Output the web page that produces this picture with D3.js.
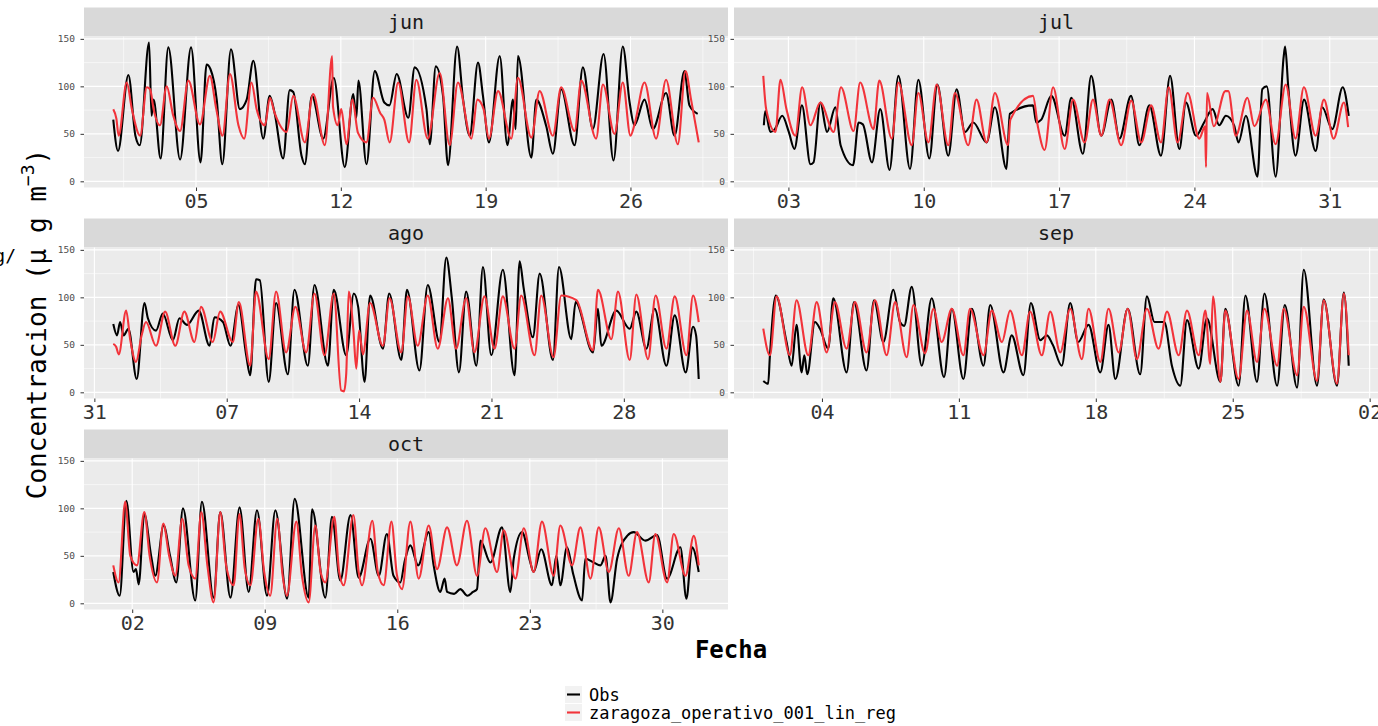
<!DOCTYPE html>
<html>
<head>
<meta charset="utf-8">
<script src="https://cdn.jsdelivr.net/npm/d3@7"></script>
<style>
  body { margin: 0; background: #fff; }
  svg text { font-family: "DejaVu Sans Mono", monospace; }
</style>
</head>
<body>
<svg id="chart" width="1378" height="726"></svg>
<script>
// facet names and the first day of each month
const months = ["jun", "jul", "ago", "sep", "oct"];
const monthFirst = ["2019-06-01", "2019-07-01", "2019-08-01", "2019-09-01", "2019-10-01"];

// x breaks of every facet
const junTicks = ["2019-06-05", "2019-06-12", "2019-06-19", "2019-06-26"];
const julTicks = ["2019-07-03", "2019-07-10", "2019-07-17", "2019-07-24", "2019-07-31"];
const agoTicks = ["2019-07-31", "2019-08-07", "2019-08-14", "2019-08-21", "2019-08-28"];
const sepTicks = ["2019-09-04", "2019-09-11", "2019-09-18", "2019-09-25", "2019-10-02"];
const octTicks = ["2019-10-02", "2019-10-09", "2019-10-16", "2019-10-23", "2019-10-30"];

const yTicks = [0, 50, 100, 150];
const yMinor = [25, 75, 125];

const seriesNames = ["Obs", "zaragoza_operativo_001_lin_reg"];

// [days since the 1st of the month, concentration]
const junObs = [[0,65],[0.23,32],[0.73,112],[1.07,48],[1.28,38],[1.73,146],[1.85,69],[1.95,86],[2.29,24],[2.66,141],[3.23,23],[3.76,141],[4.22,20],[4.51,123],[4.7,118],[5.0,86],[5.27,18],[5.69,139],[6.12,76],[6.45,86],[6.77,127],[7.25,45],[7.56,90],[7.8,72],[8.21,24],[8.53,96],[8.7,94],[9.1,27],[9.26,18],[9.6,90],[10.15,45],[10.66,109],[11.19,15],[11.6,92],[11.75,67],[11.85,106],[12.24,18],[12.64,116],[13.1,83],[13.35,80],[13.7,113],[14.26,67],[14.57,120],[15.14,76],[15.3,39],[15.59,121],[15.94,90],[16.18,17],[16.62,142],[16.91,86],[17.23,48],[17.63,125],[17.87,90],[18.16,41],[18.68,132],[19.05,38],[19.32,86],[19.45,55],[19.56,132],[20.21,25],[20.45,86],[20.93,58],[21.25,29],[21.65,97],[22.3,38],[22.7,120],[23.18,55],[23.7,134],[24.18,22],[24.63,142],[24.96,83],[25.19,59],[25.68,86],[26.08,55],[26.72,93],[27.13,48],[27.61,116],[27.85,80],[28.25,71]];
const junMod = [[0,76],[0.15,66],[0.26,48],[0.65,104],[0.9,76],[1.3,48],[1.62,99],[1.78,97],[1.95,76],[2.26,59],[2.58,100],[2.9,69],[3.23,53],[3.63,106],[4.19,60],[4.67,111],[4.98,76],[5.28,48],[5.64,113],[6.05,59],[6.33,45],[6.68,104],[6.93,76],[7.33,59],[7.57,88],[7.8,72],[8.38,52],[8.7,90],[9.26,41],[9.66,92],[10.23,38],[10.58,132],[10.62,79],[10.85,59],[11.02,76],[11.27,39],[11.56,86],[11.83,51],[12.24,41],[12.56,88],[12.9,72],[13.1,65],[13.36,41],[13.77,104],[14.3,41],[14.65,107],[15.2,45],[15.78,114],[16.26,38],[16.66,104],[17.31,45],[17.6,86],[17.9,76],[18.16,45],[18.6,95],[19.24,45],[19.56,109],[20.21,46],[20.61,95],[21.25,48],[21.65,99],[22.3,53],[22.62,106],[23.34,45],[23.67,102],[24.23,50],[24.63,104],[25.0,48],[25.2,60],[25.68,104],[26.24,45],[26.72,107],[27.29,39],[27.66,116],[27.93,86],[28.3,41]];

const julObs = [[0.73,59],[0.8,74],[1.07,52],[1.3,55],[1.68,69],[2.02,52],[2.31,34],[2.7,80],[3.14,18],[3.3,20],[3.65,83],[4.0,52],[4.43,78],[4.7,38],[5.34,17],[5.63,62],[5.85,60],[6.32,20],[6.75,76],[7.23,12],[7.69,111],[8.29,13],[8.72,107],[9.29,24],[9.7,102],[10.27,27],[10.7,97],[11.13,52],[11.56,62],[12.25,41],[12.68,78],[13.28,13],[13.45,71],[14.65,80],[14.82,62],[15.08,65],[15.6,90],[16.29,48],[16.63,88],[17.23,29],[17.66,111],[18.18,48],[18.7,86],[19.12,45],[19.72,90],[20.15,38],[20.67,80],[21.27,27],[21.74,111],[22.22,34],[22.56,83],[23.08,48],[23.5,62],[23.94,76],[24.28,59],[24.63,69],[25.05,59],[25.28,41],[25.66,69],[26.26,5],[26.51,97],[26.74,100],[27.2,5],[27.62,132],[27.69,142],[27.85,100],[28.23,27],[28.67,86],[29.27,32],[29.61,78],[30.13,55],[30.67,99],[30.98,69]];
const julMod = [[0.7,111],[0.85,76],[1.33,52],[1.59,107],[1.9,76],[2.36,48],[2.71,99],[3.14,59],[3.65,83],[4.34,52],[4.72,99],[5.37,53],[5.71,104],[6.4,55],[6.7,106],[7.35,45],[7.69,104],[8.38,38],[8.72,93],[9.24,41],[9.67,102],[10.27,38],[10.61,93],[11.3,38],[11.73,86],[12.25,41],[12.68,93],[13.36,38],[13.48,65],[14.65,90],[14.9,58],[15.25,33],[15.69,99],[16.29,34],[16.72,86],[17.32,41],[17.75,86],[18.18,48],[18.61,86],[19.21,38],[19.73,85],[20.25,41],[20.76,80],[21.27,41],[21.67,99],[22.13,41],[22.65,93],[23.25,45],[23.55,58],[23.6,15],[23.65,93],[24.0,58],[24.6,95],[24.75,95],[25.14,48],[25.74,88],[26.1,58],[26.69,86],[27.2,39],[27.72,102],[28.23,45],[28.66,99],[29.27,48],[29.7,86],[30.2,45],[30.73,83],[30.95,57]];

const agoObs = [[0,72],[0.2,60],[0.36,74],[0.55,60],[0.8,67],[1.24,14],[1.65,94],[1.83,78],[2.26,65],[2.62,83],[3.15,55],[3.5,78],[3.9,71],[4.52,86],[5.09,49],[5.35,79],[5.8,74],[6.2,49],[6.62,92],[7.03,39],[7.24,18],[7.55,119],[7.75,118],[8.22,11],[8.61,94],[9.23,19],[9.58,108],[10.29,28],[10.64,113],[11.35,28],[11.66,108],[12.32,39],[12.72,104],[12.95,90],[13.29,11],[13.58,102],[14.26,46],[14.59,104],[15.23,34],[15.53,108],[16.19,23],[16.63,113],[17.25,53],[17.61,142],[17.9,100],[18.28,21],[18.66,106],[19.2,28],[19.55,132],[19.99,39],[20.6,129],[21.22,18],[21.49,138],[21.7,110],[22.19,58],[22.55,125],[23.25,34],[23.57,132],[24.22,56],[24.45,95],[25.37,42],[25.63,88],[25.81,49],[26.6,86],[27.31,67],[27.66,85],[28.19,46],[28.63,88],[29.25,28],[29.69,81],[30.27,21],[30.66,69],[30.82,60],[30.96,14]];
const agoMod = [[0,51],[0.15,48],[0.29,40],[0.68,86],[0.9,55],[1.2,32],[1.5,60],[1.73,74],[2.26,49],[2.74,85],[3.28,49],[3.76,85],[4.29,53],[4.64,90],[5.26,53],[5.65,85],[6.32,53],[6.64,95],[7.24,28],[7.55,106],[8.22,35],[8.61,106],[9.14,42],[9.63,90],[10.2,42],[10.64,104],[11.17,39],[11.66,104],[12.05,2],[12.2,1],[12.32,20],[12.45,106],[12.7,65],[12.85,25],[13.0,65],[13.2,40],[13.58,94],[14.26,49],[14.61,99],[15.23,42],[15.58,101],[16.1,49],[16.63,102],[17.16,46],[17.7,99],[18.13,46],[18.66,99],[19.1,42],[19.63,101],[20.16,46],[20.6,101],[21.22,46],[21.57,102],[22.28,39],[22.63,102],[23.28,37],[23.69,102],[24.49,97],[25.37,44],[25.63,108],[26.34,56],[26.69,106],[27.31,34],[27.66,103],[28.28,35],[28.68,102],[29.25,46],[29.69,101],[30.31,39],[30.66,102],[30.96,74]];

const sepObs = [[0,12],[0.25,9],[0.34,39],[0.64,102],[1.19,53],[1.45,28],[1.7,71],[1.96,21],[2.1,39],[2.25,19],[2.64,74],[2.9,67],[3.32,46],[3.58,99],[4.26,21],[4.64,95],[5.28,23],[5.66,97],[6.14,53],[6.65,108],[6.99,74],[7.2,70],[7.59,111],[8.1,28],[8.61,99],[9.24,16],[9.64,88],[10.23,14],[10.66,88],[11.26,28],[11.6,92],[12.28,21],[12.7,60],[13.3,18],[13.68,94],[14.16,55],[14.5,60],[14.8,50],[15.26,28],[15.69,94],[16.1,53],[16.63,71],[17.23,21],[17.65,71],[18.0,14],[18.63,88],[19.27,19],[19.61,101],[20.0,74],[20.5,74],[20.89,28],[21.32,7],[21.66,76],[22.26,25],[22.68,78],[23.37,11],[23.62,88],[24.3,7],[24.65,102],[25.24,11],[25.62,104],[26.27,7],[26.66,92],[27.29,5],[27.63,129],[28.31,7],[28.65,98],[29.33,7],[29.68,105],[29.93,28]];
const sepMod = [[0,67],[0.34,39],[0.68,101],[1.36,39],[1.7,97],[2.3,39],[2.73,95],[3.24,42],[3.66,95],[4.26,46],[4.69,95],[5.28,42],[5.71,97],[6.31,39],[6.74,95],[7.33,37],[7.68,92],[8.27,41],[8.7,88],[9.12,53],[9.64,88],[10.23,39],[10.57,88],[11.26,39],[11.68,86],[12.2,53],[12.62,86],[13.22,39],[13.64,85],[14.24,39],[14.67,85],[15.18,42],[15.69,88],[16.29,35],[16.63,88],[17.23,32],[17.65,88],[18.17,42],[18.63,88],[19.1,35],[19.61,88],[20.21,46],[20.64,85],[21.24,39],[21.66,86],[22.26,39],[22.6,86],[22.85,30],[22.99,101],[23.37,11],[23.62,86],[24.3,14],[24.73,86],[25.24,32],[25.62,88],[26.27,28],[26.61,88],[27.29,18],[27.63,90],[28.31,12],[28.65,97],[29.33,9],[29.68,104],[29.93,39]];

const octObs = [[0,33],[0.34,8],[0.69,108],[1.07,33],[1.2,36],[1.34,20],[1.64,94],[2.0,50],[2.22,29],[2.66,82],[3.0,50],[3.33,22],[3.68,100],[4.33,3],[4.68,107],[5.3,6],[5.65,96],[6.19,6],[6.67,101],[7.15,12],[7.59,98],[8.12,8],[8.56,98],[9.18,5],[9.58,110],[10.32,6],[10.5,99],[11.2,6],[11.55,91],[11.99,24],[12.53,93],[12.96,27],[13.58,68],[14.02,29],[14.45,73],[14.8,29],[15.16,22],[15.4,45],[15.69,61],[16.1,40],[16.66,75],[16.92,40],[17.27,12],[17.5,26],[17.63,12],[18.0,10],[18.33,15],[18.7,8],[19.0,12],[19.21,15],[19.39,66],[19.92,43],[20.53,80],[20.97,12],[21.15,47],[21.59,75],[22.0,45],[22.2,33],[22.6,57],[23.17,19],[23.4,50],[23.61,19],[23.96,59],[24.3,30],[24.76,3],[24.93,47],[25.37,43],[25.73,40],[26.0,50],[26.26,1],[26.61,47],[27.14,71],[27.49,75],[28.1,66],[28.72,72],[29.25,26],[29.95,59],[30.27,5],[30.57,59],[30.92,33]];
const octMod = [[0,40],[0.28,22],[0.63,107],[0.9,50],[1.25,40],[1.64,96],[1.92,50],[2.31,22],[2.64,84],[2.95,50],[3.28,29],[3.64,89],[3.98,40],[4.33,26],[4.65,96],[4.97,40],[5.3,1],[5.65,96],[5.96,40],[6.36,19],[6.66,94],[6.95,36],[7.24,19],[7.66,89],[7.97,33],[8.29,8],[8.66,89],[8.94,30],[9.17,8],[9.67,86],[9.96,30],[10.32,1],[10.67,82],[10.95,33],[11.2,22],[11.67,91],[11.93,33],[12.17,19],[12.68,93],[12.96,33],[13.14,19],[13.68,87],[13.97,33],[14.28,19],[14.69,86],[14.98,30],[15.25,15],[15.69,86],[16.13,26],[16.66,82],[17.1,36],[17.63,80],[18.15,40],[18.68,87],[19.21,29],[19.65,79],[20.27,33],[20.62,77],[21.24,26],[21.68,79],[22.2,33],[22.64,86],[23.26,29],[23.61,82],[24.23,40],[24.67,80],[25.2,26],[25.64,80],[26.17,33],[26.7,79],[27.22,29],[27.66,75],[28.28,22],[28.63,73],[29.25,22],[29.6,73],[30.22,29],[30.66,71],[30.92,40]];

const panelData = [
  { ticks: junTicks, obs: junObs, mod: junMod },
  { ticks: julTicks, obs: julObs, mod: julMod },
  { ticks: agoTicks, obs: agoObs, mod: agoMod },
  { ticks: sepTicks, obs: sepObs, mod: sepMod },
  { ticks: octTicks, obs: octObs, mod: octMod }
];

const colors = ["#000000", "#f2333a"];

// layout
const svg = d3.select("#chart");
const panelW = 644, stripH = 29, panelH = 151;
const colX = [84, 734];
const rowY = [7.5, 218.5, 429.5];
const DAY = 864e5;

const y = d3.scaleLinear().domain([-6.5, 152.5]).range([panelH, 0]);

panelData.forEach((p, i) => {
  const left = colX[i % 2];
  const top = rowY[Math.floor(i / 2)];
  const t0 = Date.parse(monthFirst[i]);
  const toDate = d => new Date(t0 + d[0] * DAY);

  const [lo, hi] = d3.extent(p.obs.concat(p.mod), toDate);
  const pad = (hi - lo) * 0.05;
  const x = d3.scaleUtc().domain([new Date(lo - pad), new Date(+hi + pad)]).range([0, panelW]);
  const ticks = p.ticks.map(s => new Date(Date.parse(s)));

  // strip
  svg.append("rect").attr("x", left).attr("y", top).attr("width", panelW).attr("height", stripH).attr("fill", "#d9d9d9");
  svg.append("text").attr("x", left + panelW / 2).attr("y", top + 21)
    .attr("text-anchor", "middle").attr("font-size", 20).attr("fill", "#1a1a1a").text(months[i]);

  const g = svg.append("g").attr("transform", `translate(${left},${top + stripH})`);
  g.append("rect").attr("width", panelW).attr("height", panelH).attr("fill", "#ebebeb");

  // minor grid
  const step = ticks[1] - ticks[0];
  const xMinor = [new Date(ticks[0] - step / 2)];
  ticks.forEach(t => xMinor.push(new Date(+t + step / 2)));
  const dom = x.domain();
  g.selectAll(".xmin").data(xMinor.filter(t => t >= dom[0] && t <= dom[1])).join("line")
    .attr("x1", d => x(d)).attr("x2", d => x(d)).attr("y1", 0).attr("y2", panelH)
    .attr("stroke", "#fff").attr("stroke-width", 0.55);
  g.selectAll(".ymin").data(yMinor).join("line")
    .attr("x1", 0).attr("x2", panelW).attr("y1", d => y(d)).attr("y2", d => y(d))
    .attr("stroke", "#fff").attr("stroke-width", 0.55);

  // major grid
  g.selectAll(".xmaj").data(ticks.filter(t => t >= dom[0] && t <= dom[1])).join("line")
    .attr("x1", d => x(d)).attr("x2", d => x(d)).attr("y1", 0).attr("y2", panelH)
    .attr("stroke", "#fff").attr("stroke-width", 1.1);
  g.selectAll(".ymaj").data(yTicks).join("line")
    .attr("x1", 0).attr("x2", panelW).attr("y1", d => y(d)).attr("y2", d => y(d))
    .attr("stroke", "#fff").attr("stroke-width", 1.1);

  // series
  const clipId = "clip" + i;
  g.append("clipPath").attr("id", clipId).append("rect").attr("width", panelW).attr("height", panelH);
  const line = d3.line().curve(d3.curveMonotoneX).x(d => x(toDate(d))).y(d => y(d[1]));
  [p.obs, p.mod].forEach((s, k) => {
    g.append("path").datum(s).attr("clip-path", `url(#${clipId})`)
      .attr("d", line).attr("fill", "none").attr("stroke", colors[k])
      .attr("stroke-width", 2.1).attr("stroke-linejoin", "round");
  });

  // axes
  const ya = g.append("g").call(d3.axisLeft(y).tickValues(yTicks).tickSize(3.5).tickPadding(5.5));
  ya.select(".domain").remove();
  ya.selectAll("line").attr("stroke", "#333");
  ya.selectAll("text").attr("font-size", 9.5).attr("fill", "#4d4d4d")
    .style("font-family", '"DejaVu Sans Mono", monospace');

  const xa = g.append("g").attr("transform", `translate(0,${panelH})`)
    .call(d3.axisBottom(x).tickValues(ticks).tickFormat(d3.utcFormat("%d")).tickSize(3.5).tickPadding(2.8));
  xa.select(".domain").remove();
  xa.selectAll("line").attr("stroke", "#333");
  xa.selectAll("text").attr("font-size", 20).attr("fill", "#333")
    .style("font-family", '"DejaVu Sans Mono", monospace');
});

// axis titles
const yt = svg.append("text").attr("transform", "translate(46,324) rotate(-90)")
  .attr("text-anchor", "middle").attr("font-size", 26).attr("fill", "#000");
yt.append("tspan").text("Concentracion (μ g m");
yt.append("tspan").attr("font-size", 18).attr("dy", -12).text("−3");
yt.append("tspan").attr("dy", 12).text(")");

svg.append("text").attr("x", 731).attr("y", 658).attr("text-anchor", "middle")
  .attr("font-size", 24).attr("font-weight", "bold").attr("fill", "#000").text("Fecha");

// clipped label at the left edge, as in the source image
svg.append("text").attr("x", 16).attr("y", 262).attr("text-anchor", "end")
  .attr("font-size", 18).attr("fill", "#000").text("µg/");

// legend
const lg = svg.append("g").attr("transform", "translate(565,686)");
seriesNames.forEach((n, k) => {
  lg.append("rect").attr("x", 0).attr("y", k * 18).attr("width", 17).attr("height", 17).attr("fill", "#f2f2f2");
  lg.append("line").attr("x1", 2).attr("x2", 15).attr("y1", k * 18 + 8.5).attr("y2", k * 18 + 8.5)
    .attr("stroke", colors[k]).attr("stroke-width", 2.1);
  lg.append("text").attr("x", 24).attr("y", k * 18 + 15).attr("font-size", 17).attr("fill", "#000").text(n);
});
</script>
</body>
</html>
